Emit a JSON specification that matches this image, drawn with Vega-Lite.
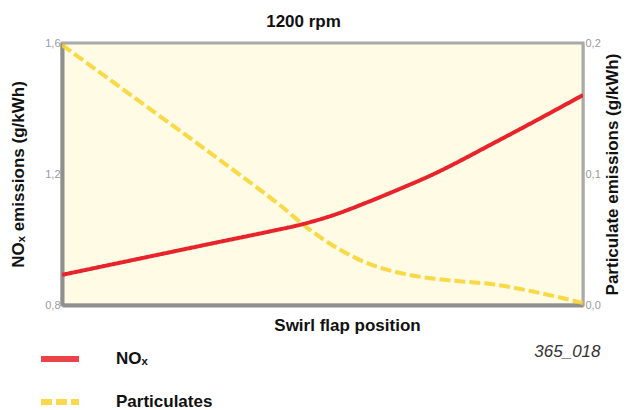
{
  "$schema": "https://vega.github.io/schema/vega-lite/v6.json",
  "width": 521,
  "height": 262,
  "autosize": {"type": "none"},
  "padding": {"left": 62, "top": 43, "right": 44, "bottom": 105},
  "background": "white",
  "title": {"text": "1200 rpm", "fontSize": 17, "fontWeight": "bold", "font": "Liberation Sans", "color": "#111", "offset": 6, "dx": -19},
  "config": {
    "font": "Liberation Sans",
    "view": {"fill": "#fffbe4", "stroke": "#aaaaaa", "strokeWidth": 3},
    "axis": {"grid": false, "ticks": false, "labelColor": "#9a9a9a", "labelFontSize": 11, "labelOverlap": false, "labelBound": false, "titleFontSize": 17, "titleFontWeight": "bold", "titleColor": "#111", "domainColor": "#8f8f8f", "domainWidth": 4},
    "legend": {"orient": "none", "legendX": -24, "legendY": 294, "symbolType": "stroke", "symbolSize": 1444, "symbolStrokeWidth": 6, "labelOffset": 34, "labelFontSize": 17, "labelFontWeight": "bold", "labelColor": "#111", "rowPadding": 9, "title": null}
  },
  "data": {"values": [
    {"series": "NOₓ", "pos": 0, "value": 0.892},
    {"series": "NOₓ", "pos": 15, "value": 0.942},
    {"series": "NOₓ", "pos": 30, "value": 0.992},
    {"series": "NOₓ", "pos": 40, "value": 1.025},
    {"series": "NOₓ", "pos": 45.7, "value": 1.045},
    {"series": "NOₓ", "pos": 52, "value": 1.074},
    {"series": "NOₓ", "pos": 58.5, "value": 1.113},
    {"series": "NOₓ", "pos": 64.9, "value": 1.155},
    {"series": "NOₓ", "pos": 70, "value": 1.190},
    {"series": "NOₓ", "pos": 84, "value": 1.304},
    {"series": "NOₓ", "pos": 100, "value": 1.441},
    {"series": "Particulates", "pos": 0, "value": 0.1985},
    {"series": "Particulates", "pos": 16.9, "value": 0.1496},
    {"series": "Particulates", "pos": 34.7, "value": 0.0977},
    {"series": "Particulates", "pos": 41.8, "value": 0.0763},
    {"series": "Particulates", "pos": 47.6, "value": 0.0573},
    {"series": "Particulates", "pos": 58.5, "value": 0.0321},
    {"series": "Particulates", "pos": 66.8, "value": 0.0229},
    {"series": "Particulates", "pos": 74.5, "value": 0.0188},
    {"series": "Particulates", "pos": 82.7, "value": 0.0158},
    {"series": "Particulates", "pos": 90.4, "value": 0.0103},
    {"series": "Particulates", "pos": 100, "value": 0.0015}
  ]},
  "encoding": {
    "color": {"field": "series", "type": "nominal", "scale": {"domain": ["NOₓ", "Particulates"], "range": ["#e8232b", "#f9d22a"]}},
    "strokeDash": {"field": "series", "type": "nominal", "scale": {"domain": ["NOₓ", "Particulates"], "range": [[1, 0], [11, 4]]}}
  },
  "layer": [
    {
      "transform": [{"filter": "datum.series === 'Particulates'"}],
      "mark": {"type": "line", "strokeWidth": 4, "opacity": 0.85, "clip": true, "interpolate": "monotone"},
      "encoding": {
        "x": {"field": "pos", "type": "quantitative", "scale": {"domain": [0, 100], "nice": false}, "axis": {"orient": "bottom", "domain": false, "labels": false, "title": "365_018", "titleFontSize": 17, "titleFontStyle": "italic", "titleFontWeight": "normal", "titleColor": "#333", "titleAlign": "right", "titleX": 538, "titleY": 38}},
        "y": {"field": "value", "type": "quantitative", "scale": {"domain": [0, 0.2], "nice": false}, "axis": {"orient": "right", "values": [0, 0.1, 0.2], "labelExpr": "replace(format(datum.value, '.1f'), '.', ',')", "domainWidth": 2, "domainColor": "#aaaaaa", "title": "Particulate emissions (g/kWh)", "titleAngle": 270, "titleBaseline": "bottom", "titlePadding": 21}}
      }
    },
    {
      "transform": [{"filter": "datum.series === 'NOₓ'"}],
      "mark": {"type": "line", "strokeWidth": 4, "clip": true, "interpolate": "monotone"},
      "encoding": {
        "x": {"field": "pos", "type": "quantitative", "scale": {"domain": [0, 100], "nice": false}, "axis": {"orient": "bottom", "labels": false, "title": "Swirl flap position", "titlePadding": 12, "titleX": 285}},
        "y": {"field": "value", "type": "quantitative", "scale": {"domain": [0.8, 1.6], "nice": false}, "axis": {"orient": "left", "values": [0.8, 1.2, 1.6], "labelExpr": "replace(format(datum.value, '.1f'), '.', ',')", "title": "NOₓ emissions (g/kWh)", "titlePadding": 17}}
      }
    }
  ],
  "resolve": {"scale": {"x": "independent", "y": "independent"}}
}
